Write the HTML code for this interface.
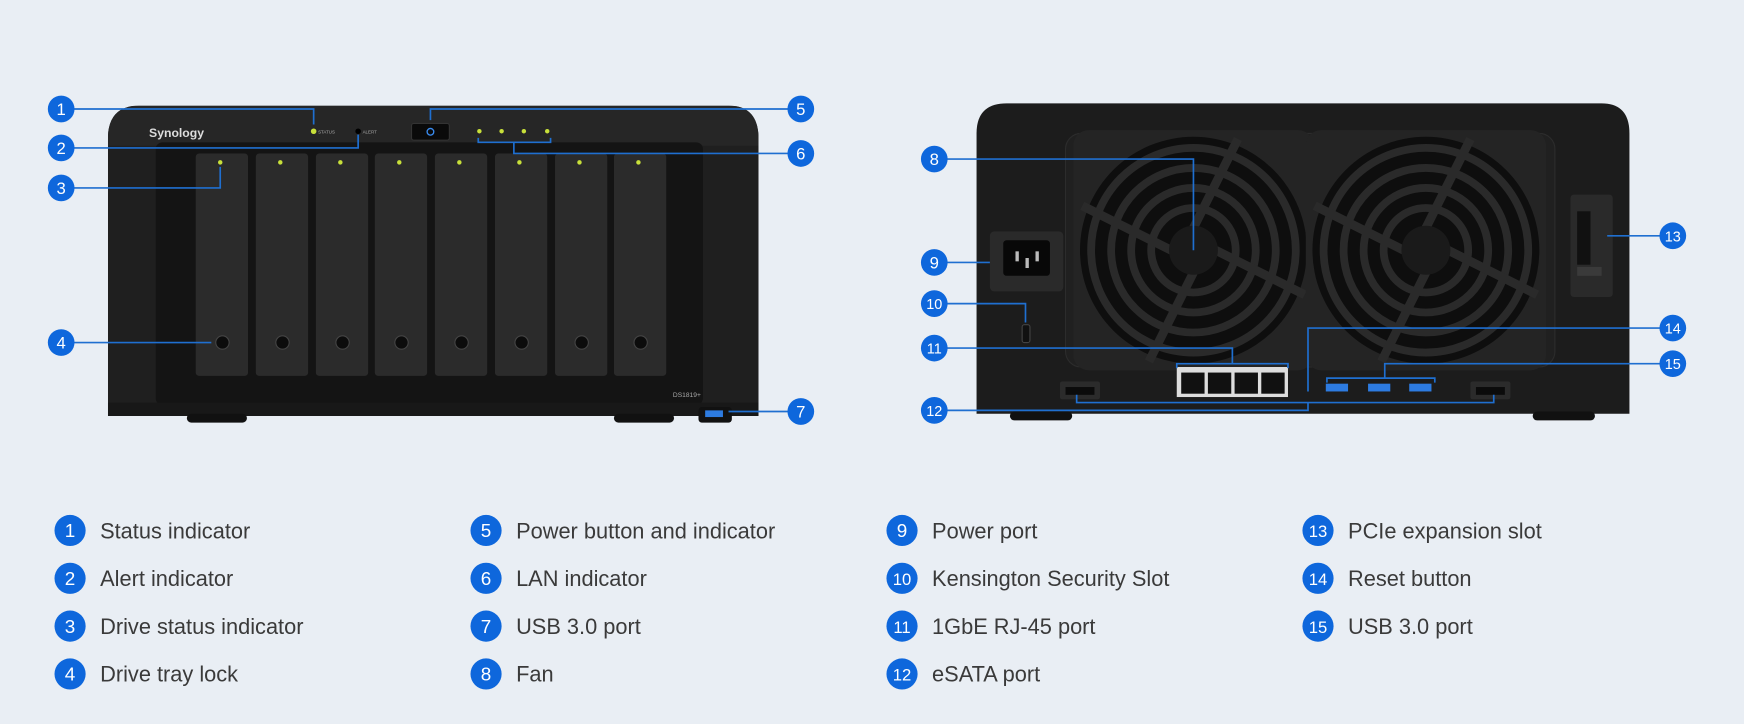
<!DOCTYPE html>
<html><head><meta charset="utf-8"><style>
html,body{margin:0;padding:0;background:#e9eef4;}
svg{display:block}
text{font-family:"Liberation Sans",sans-serif}
</style></head><body>
<svg width="1744" height="724" viewBox="0 0 1568 651" preserveAspectRatio="none" xmlns="http://www.w3.org/2000/svg">
<defs>
<g id="fan">
<rect x="-108" y="-108" width="216" height="216" rx="14" fill="#242424"/>
<circle r="102" fill="#0e0e0e"/>
<circle r="92" fill="none" stroke="#2a2a2a" stroke-width="7"/>
<circle r="74" fill="none" stroke="#2a2a2a" stroke-width="7"/>
<circle r="56" fill="none" stroke="#2a2a2a" stroke-width="7"/>
<circle r="38" fill="none" stroke="#2a2a2a" stroke-width="7"/>
<g stroke="#2a2a2a" stroke-width="8">
<line x1="0" y1="-20" x2="40" y2="-100"/><line x1="20" y1="0" x2="100" y2="40"/><line x1="0" y1="20" x2="-40" y2="100"/><line x1="-20" y1="0" x2="-100" y2="-40"/>
</g>
<circle r="22" fill="#1a1a1a"/>
</g>
<clipPath id="fc"><path d="M125 95 H655 Q682 95 682 125 V374 H97 V125 Q97 95 125 95Z"/></clipPath>
</defs>
<rect width="1568" height="651" fill="#e9eef4"/>

<!-- FRONT UNIT -->
<g clip-path="url(#fc)">
<rect x="97" y="95" width="585" height="280" fill="#1f1f1f"/>
<rect x="97" y="95" width="585" height="36" fill="#262626"/>
<rect x="140" y="128" width="492" height="236" rx="6" fill="#141414"/>
<rect x="97" y="362" width="585" height="12" fill="#181818"/>
</g>
<text x="134" y="123" font-size="11" fill="#ddd" font-weight="bold">Synology</text>
<circle cx="282" cy="118" r="2.5" fill="#c8e03a"/><text x="286" y="120" font-size="4" fill="#aaa">STATUS</text>
<circle cx="322" cy="118" r="2.5" fill="#000"/><text x="326" y="120" font-size="4" fill="#aaa">ALERT</text>
<rect x="370" y="111" width="34" height="15" rx="2" fill="#0a0a0a" stroke="#333"/>
<circle cx="387" cy="118.5" r="3" fill="none" stroke="#3a8cf0" stroke-width="1.2"/>
<g fill="#c8e03a"><circle cx="431" cy="118" r="2"/><circle cx="451" cy="118" r="2"/><circle cx="471" cy="118" r="2"/><circle cx="492" cy="118" r="2"/></g>
<g>
<rect x="176" y="138" width="47" height="200" rx="3" fill="#2b2b2b"/><circle cx="198" cy="146" r="2" fill="#c8e03a"/><circle cx="200" cy="308" r="6" fill="#0c0c0c" stroke="#444"/>
<rect x="230" y="138" width="47" height="200" rx="3" fill="#2b2b2b"/><circle cx="252" cy="146" r="2" fill="#c8e03a"/><circle cx="254" cy="308" r="6" fill="#0c0c0c" stroke="#444"/>
<rect x="284" y="138" width="47" height="200" rx="3" fill="#2b2b2b"/><circle cx="306" cy="146" r="2" fill="#c8e03a"/><circle cx="308" cy="308" r="6" fill="#0c0c0c" stroke="#444"/>
<rect x="337" y="138" width="47" height="200" rx="3" fill="#2b2b2b"/><circle cx="359" cy="146" r="2" fill="#c8e03a"/><circle cx="361" cy="308" r="6" fill="#0c0c0c" stroke="#444"/>
<rect x="391" y="138" width="47" height="200" rx="3" fill="#2b2b2b"/><circle cx="413" cy="146" r="2" fill="#c8e03a"/><circle cx="415" cy="308" r="6" fill="#0c0c0c" stroke="#444"/>
<rect x="445" y="138" width="47" height="200" rx="3" fill="#2b2b2b"/><circle cx="467" cy="146" r="2" fill="#c8e03a"/><circle cx="469" cy="308" r="6" fill="#0c0c0c" stroke="#444"/>
<rect x="499" y="138" width="47" height="200" rx="3" fill="#2b2b2b"/><circle cx="521" cy="146" r="2" fill="#c8e03a"/><circle cx="523" cy="308" r="6" fill="#0c0c0c" stroke="#444"/>
<rect x="552" y="138" width="47" height="200" rx="3" fill="#2b2b2b"/><circle cx="574" cy="146" r="2" fill="#c8e03a"/><circle cx="576" cy="308" r="6" fill="#0c0c0c" stroke="#444"/>
</g>
<text x="605" y="357" font-size="6" fill="#aaa">DS1819+</text>
<rect x="168" y="372" width="54" height="8" rx="4" fill="#111"/>
<rect x="552" y="372" width="54" height="8" rx="4" fill="#111"/>
<rect x="628" y="366" width="30" height="14" rx="3" fill="#111"/>
<rect x="634" y="369" width="16" height="6" fill="#2d7be0"/>

<!-- BACK UNIT -->
<path d="M905 93 H1440 Q1465 93 1465 120 V372 H878 V120 Q878 93 905 93Z" fill="#1c1c1c"/>
<rect x="958" y="120" width="440" height="210" rx="14" fill="#202020" stroke="#2c2c2c"/>
<use href="#fan" x="1073" y="225"/>
<use href="#fan" x="1282" y="225"/>
<rect x="890" y="208" width="66" height="54" rx="4" fill="#2a2a2a"/>
<rect x="902" y="216" width="42" height="32" rx="3" fill="#080808"/>
<g fill="#bbb"><rect x="913" y="226" width="3" height="9"/><rect x="922" y="232" width="3" height="9"/><rect x="931" y="226" width="3" height="9"/></g>
<rect x="919" y="292" width="7" height="16" rx="2" fill="#111" stroke="#444"/>
<rect x="1058" y="330" width="100" height="27" fill="#ddd"/>
<g fill="#111"><rect x="1062" y="335" width="21" height="19"/><rect x="1086" y="335" width="21" height="19"/><rect x="1110" y="335" width="21" height="19"/><rect x="1134" y="335" width="21" height="19"/></g>
<g fill="#2d7be0"><rect x="1192" y="345" width="20" height="7"/><rect x="1230" y="345" width="20" height="7"/><rect x="1267" y="345" width="20" height="7"/></g>
<rect x="953" y="343" width="36" height="16" rx="2" fill="#2b2b2b"/><rect x="958" y="348" width="26" height="7" fill="#0b0b0b"/>
<rect x="1322" y="343" width="36" height="16" rx="2" fill="#2b2b2b"/><rect x="1327" y="348" width="26" height="7" fill="#0b0b0b"/>
<rect x="1412" y="175" width="38" height="92" rx="3" fill="#2a2a2a"/>
<rect x="1418" y="190" width="12" height="48" fill="#111"/>
<rect x="1418" y="240" width="22" height="8" fill="#3a3a3a"/>
<rect x="908" y="370" width="56" height="8" rx="4" fill="#111"/>
<rect x="1378" y="370" width="56" height="8" rx="4" fill="#111"/>

<!-- CONNECTORS -->
<g fill="none" stroke="#1f6fd0" stroke-width="1.5">
<polyline points="55,98 282,98 282,112"/>
<polyline points="55,133 322,133 322,121"/>
<polyline points="55,169 198,169 198,150"/>
<polyline points="55,308 190,308"/>
<polyline points="720,98 387,98 387,108"/>
<polyline points="720,138 462,138 462,128"/>
<polyline points="430,124 430,128 495,128 495,124"/>
<polyline points="720,370 655,370"/>
<polyline points="840,143 1073,143 1073,225"/>
<polyline points="840,236 890,236"/>
<polyline points="840,273 922,273 922,290"/>
<polyline points="840,313 1108,313 1108,327"/>
<polyline points="1058,331 1058,327 1158,327 1158,331"/>
<polyline points="840,369 1176,369 1176,362"/>
<polyline points="968,355 968,362 1343,362 1343,355"/>
<polyline points="1504,295 1176,295 1176,352"/>
<polyline points="1504,327 1245,327 1245,340"/>
<polyline points="1193,344 1193,340 1290,340 1290,344"/>
<polyline points="1504,212 1445,212"/>
</g>
<g font-size="15" fill="#fff" text-anchor="middle">
<g fill="#0e67dc">
<circle cx="55" cy="98" r="12"/><circle cx="55" cy="133" r="12"/><circle cx="55" cy="169" r="12"/><circle cx="55" cy="308" r="12"/>
<circle cx="720" cy="98" r="12"/><circle cx="720" cy="138" r="12"/><circle cx="720" cy="370" r="12"/>
<circle cx="840" cy="143" r="12"/><circle cx="840" cy="236" r="12"/><circle cx="840" cy="273" r="12"/><circle cx="840" cy="313" r="12"/><circle cx="840" cy="369" r="12"/>
<circle cx="1504" cy="212" r="12"/><circle cx="1504" cy="295" r="12"/><circle cx="1504" cy="327" r="12"/>
</g>
<text x="55" y="103.5">1</text><text x="55" y="138.5">2</text><text x="55" y="174.5">3</text><text x="55" y="313.5">4</text>
<text x="720" y="103.5">5</text><text x="720" y="143.5">6</text><text x="720" y="375.5">7</text>
<text x="840" y="148.5">8</text><text x="840" y="241.5">9</text><text x="840" y="278" font-size="13">10</text><text x="840" y="318" font-size="13">11</text><text x="840" y="374" font-size="13">12</text>
<text x="1504" y="217" font-size="13">13</text><text x="1504" y="300" font-size="13">14</text><text x="1504" y="332" font-size="13">15</text>
</g>

<!-- LEGEND -->
<g fill="#0e67dc">
<circle cx="63" cy="477" r="14"/><circle cx="63" cy="520" r="14"/><circle cx="63" cy="563" r="14"/><circle cx="63" cy="606" r="14"/>
<circle cx="437" cy="477" r="14"/><circle cx="437" cy="520" r="14"/><circle cx="437" cy="563" r="14"/><circle cx="437" cy="606" r="14"/>
<circle cx="811" cy="477" r="14"/><circle cx="811" cy="520" r="14"/><circle cx="811" cy="563" r="14"/><circle cx="811" cy="606" r="14"/>
<circle cx="1185" cy="477" r="14"/><circle cx="1185" cy="520" r="14"/><circle cx="1185" cy="563" r="14"/>
</g>
<g font-size="17" fill="#fff" text-anchor="middle">
<text x="63" y="483">1</text><text x="63" y="526">2</text><text x="63" y="569">3</text><text x="63" y="612">4</text>
<text x="437" y="483">5</text><text x="437" y="526">6</text><text x="437" y="569">7</text><text x="437" y="612">8</text>
<text x="811" y="483">9</text><text x="811" y="526" font-size="15">10</text><text x="811" y="569" font-size="15">11</text><text x="811" y="612" font-size="15">12</text>
<text x="1185" y="483" font-size="15">13</text><text x="1185" y="526" font-size="15">14</text><text x="1185" y="569" font-size="15">15</text>
</g>
<g font-size="19.6" fill="#3a3a3a">
<text x="90" y="484">Status indicator</text><text x="90" y="527">Alert indicator</text><text x="90" y="570">Drive status indicator</text><text x="90" y="613">Drive tray lock</text>
<text x="464" y="484">Power button and indicator</text><text x="464" y="527">LAN indicator</text><text x="464" y="570">USB 3.0 port</text><text x="464" y="613">Fan</text>
<text x="838" y="484">Power port</text><text x="838" y="527">Kensington Security Slot</text><text x="838" y="570">1GbE RJ-45 port</text><text x="838" y="613">eSATA port</text>
<text x="1212" y="484">PCIe expansion slot</text><text x="1212" y="527">Reset button</text><text x="1212" y="570">USB 3.0 port</text>
</g>
</svg>
</body></html>
